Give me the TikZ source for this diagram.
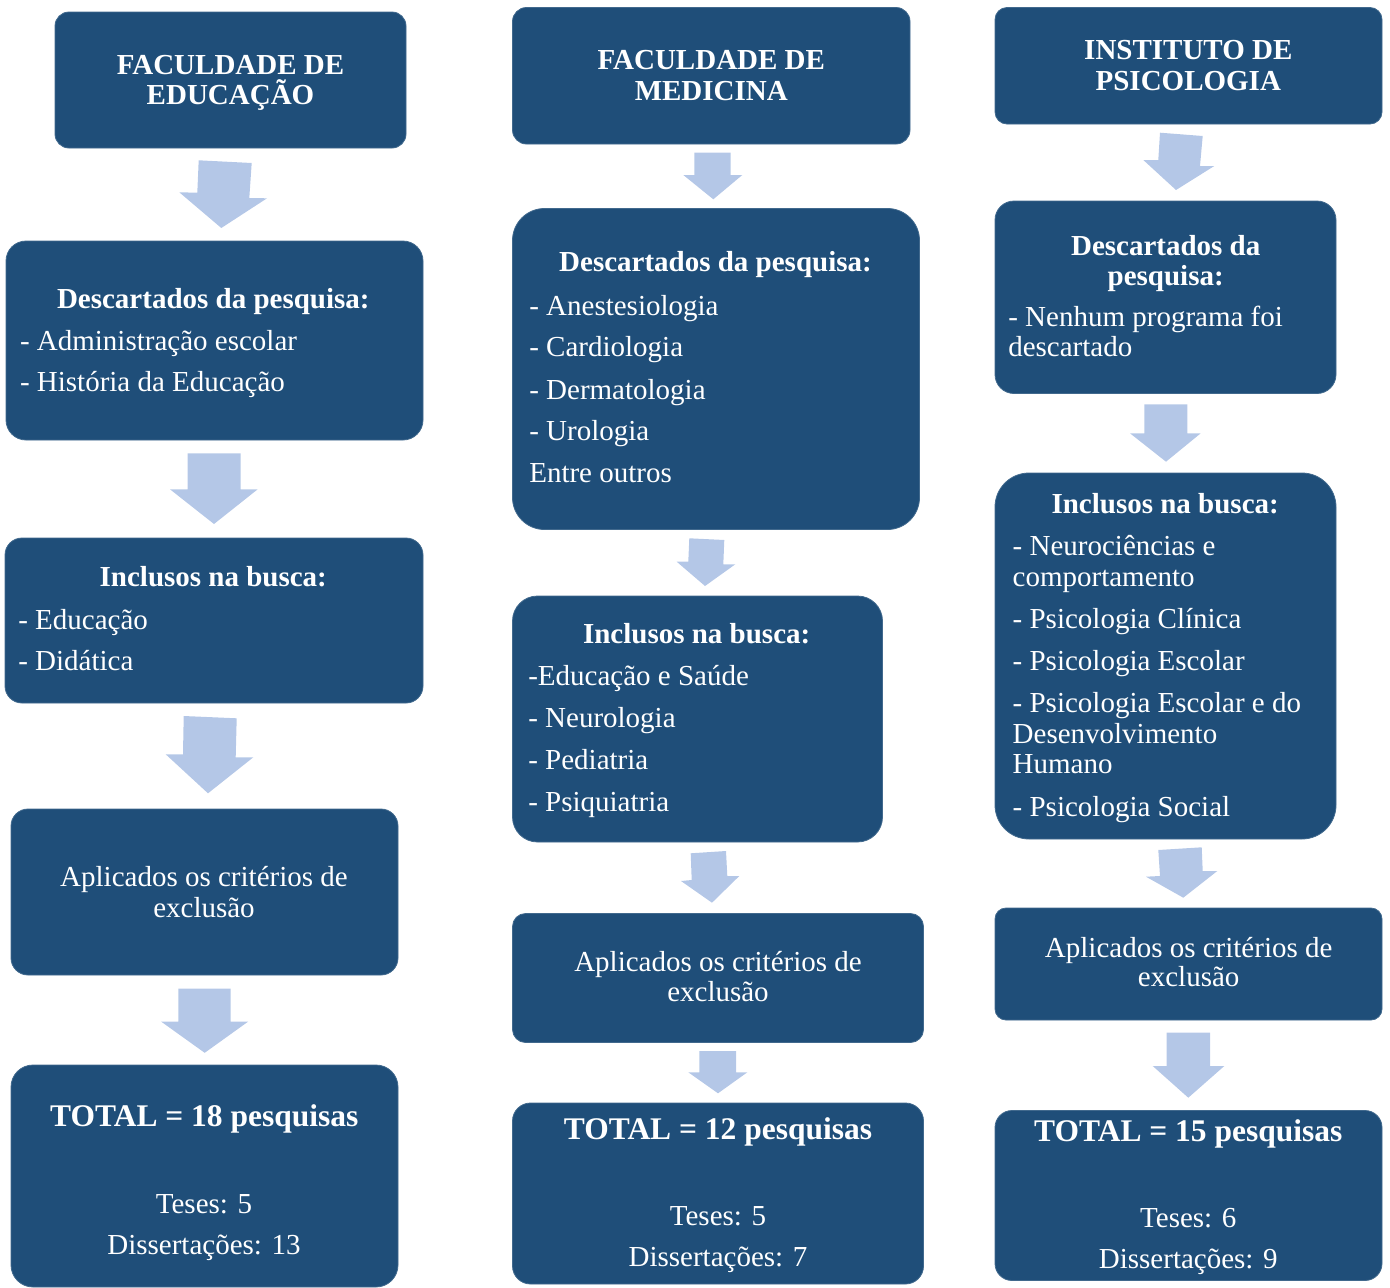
\documentclass[tikz,border=0pt]{standalone}
\usepackage{fontspec}
\setmainfont{Liberation Serif}
\definecolor{boxblue}{HTML}{1F4E79}
\definecolor{arrowblue}{HTML}{B4C7E7}
\tikzset{
  boxst/.style={fill=boxblue, draw=boxblue!85!white, line width=0.8pt, inner sep=0pt, outer sep=0pt, anchor=north west},
  txt/.style={text=white, inner sep=0pt, outer sep=0pt, font=\fontsize{29}{31}\selectfont},
  hd/.style={txt, font=\fontsize{29}{31}\selectfont\bfseries},
  tot/.style={txt, font=\fontsize{31.5}{33}\selectfont\bfseries},
  arrowst/.style={fill=arrowblue}
}
\newcommand\bx[5]{\node[boxst, minimum width=#3pt, minimum height=#4pt, rounded corners=#5pt] (#1) at (#2) {};}
\newcommand\tl[4]{\node[txt, anchor=base west] (#1) at (#2,#3) {#4};}
\newcommand\tc[4]{\node[txt, anchor=base] (#1) at (#2,#3) {#4};}
\newcommand\hc[4]{\node[hd, anchor=base] (#1) at (#2,#3) {#4};}
\newcommand\totc[4]{\node[tot, anchor=base] (#1) at (#2,#3) {#4};}
\newcommand\barrow[7]{\fill[arrowst] #1 -- #2 -- #3 -- #4 -- #5 -- #6 -- #7 -- cycle;}
\begin{document}
\begin{tikzpicture}[x=1pt,y=-1pt]
\useasboundingbox (0,0) rectangle (1390,1288);
% ---------- column 1 ----------
\bx{b1}{55,12}{351}{136}{14}
\bx{b2}{6,241}{417}{199}{20}
\bx{b3}{5,538}{418}{165}{17}
\bx{b4}{11,809}{387}{166}{17}
\bx{b5}{11,1065}{387}{222}{22}
\barrow{(198.7,160.3)}{(251.7,163)}{(249.3,198)}{(267,198.3)}{(221.3,228)}{(179.3,192.3)}{(197.3,192.7)}
\barrow{(187.7,453.3)}{(240.7,453.3)}{(240.7,489.3)}{(257.7,489.3)}{(214,524)}{(170,489.3)}{(187.7,489.3)}
\barrow{(183.7,716)}{(236.7,718.3)}{(235.7,757.3)}{(253.3,757.3)}{(208,793.3)}{(165.7,754.3)}{(183,754.3)}
\barrow{(178.3,988.7)}{(230.7,988.7)}{(230.7,1021.5)}{(248.3,1021.5)}{(204.7,1052.8)}{(161,1021.5)}{(178.3,1021.5)}
\hc{t1}{230.5}{74}{FACULDADE DE}
\hc{t2}{230.5}{104}{EDUCAÇÃO}
\hc{t3}{213.3}{308.3}{Descartados da pesquisa:}
\tl{t4}{20}{350}{- Administração escolar}
\tl{t5}{20}{391.7}{- História da Educação}
\hc{t6}{213.3}{586.7}{Inclusos na busca:}
\tl{t7}{18.3}{629}{- Educação}
\tl{t8}{18.3}{670.7}{- Didática}
\tc{t9}{204}{886}{Aplicados os critérios de}
\tc{t10}{204}{917}{exclusão}
\totc{t11}{204.3}{1126.4}{TOTAL = 18 pesquisas}
\tc{t12}{204}{1213}{Teses: 5}
\tc{t13}{204}{1254.7}{Dissertações: 13}
% ---------- column 2 ----------
\bx{c1}{512.5,7.5}{397.5}{136.5}{14}
\bx{c2}{512.5,208.5}{407}{321}{32}
\bx{c3}{512.5,596}{370}{246}{25}
\bx{c4}{512.5,913.5}{411}{129}{13}
\bx{c5}{512.5,1103}{411}{181}{18}
\barrow{(694.3,152.7)}{(730.7,152.7)}{(730.7,175)}{(742.3,175)}{(713.3,199.3)}{(683.3,175)}{(694.3,175)}
\barrow{(689.3,538.3)}{(724.3,540)}{(723.3,564.3)}{(735.3,564.3)}{(705,586)}{(676.7,561.7)}{(688.3,561.7)}
\barrow{(690.7,853.3)}{(726,851)}{(727.3,876)}{(739.3,876)}{(712,902.7)}{(681,881)}{(691.7,880)}
\barrow{(699.3,1051)}{(736,1051)}{(736,1072.3)}{(747.3,1072.3)}{(718,1093.3)}{(688.3,1072.3)}{(699.3,1072.3)}
\hc{u1}{711.3}{69}{FACULDADE DE}
\hc{u2}{711.3}{100}{MEDICINA}
\hc{u3}{715.5}{271.7}{Descartados da pesquisa:}
\tl{u4}{529.3}{315}{- Anestesiologia}
\tl{u5}{529.3}{356.7}{- Cardiologia}
\tl{u6}{529.3}{399}{- Dermatologia}
\tl{u7}{529.3}{440.7}{- Urologia}
\tl{u8}{529.3}{482.7}{Entre outros}
\hc{u9}{696.7}{643.3}{Inclusos na busca:}
\tl{u10}{528.3}{685.7}{-Educação e Saúde}
\tl{u11}{528.3}{727.3}{- Neurologia}
\tl{u12}{528.3}{769.3}{- Pediatria}
\tl{u13}{528.3}{811.7}{- Psiquiatria}
\tc{u14}{718}{971.7}{Aplicados os critérios de}
\tc{u15}{718}{1001.7}{exclusão}
\totc{u16}{718}{1139.3}{TOTAL = 12 pesquisas}
\tc{u17}{718}{1225}{Teses: 5}
\tc{u18}{718}{1266.7}{Dissertações: 7}
% ---------- column 3 ----------
\bx{d1}{995,7.5}{387}{116.5}{12}
\bx{d2}{995,201}{341}{192.5}{19}
\bx{d3}{995,473}{341}{366}{34}
\bx{d4}{995,908}{387}{112}{11}
\bx{d5}{995,1110.5}{387}{170}{17}
\barrow{(1160,132.7)}{(1202.7,136)}{(1200,166)}{(1214.3,166)}{(1176,190)}{(1143.3,160)}{(1158.3,160)}
\barrow{(1144.3,404.3)}{(1187.3,404.3)}{(1187.3,433.3)}{(1200.7,433.3)}{(1166,461.7)}{(1130,433.3)}{(1144.3,433.3)}
\barrow{(1158.3,850)}{(1201.7,847.3)}{(1202.7,871)}{(1217.3,871)}{(1183.3,897.7)}{(1146,876.7)}{(1160,876)}
\barrow{(1166.7,1032.7)}{(1210,1032.7)}{(1210,1066)}{(1224.3,1066)}{(1188.3,1097.7)}{(1152.7,1066)}{(1166.7,1066)}
\hc{v1}{1188.3}{59.3}{INSTITUTO DE}
\hc{v2}{1188.3}{90}{PSICOLOGIA}
\hc{v3}{1165.7}{255}{Descartados da}
\hc{v4}{1165.7}{285}{pesquisa:}
\tl{v5}{1008.3}{326.7}{- Nenhum programa foi}
\tl{v6}{1008.3}{356.7}{descartado}
\hc{v7}{1165.2}{513.3}{Inclusos na busca:}
\tl{v8}{1012.7}{555.7}{- Neurociências e}
\tl{v9}{1012.7}{586.7}{comportamento}
\tl{v10}{1012.7}{628.3}{- Psicologia Clínica}
\tl{v11}{1012.7}{670.7}{- Psicologia Escolar}
\tl{v12}{1012.7}{712.3}{- Psicologia Escolar e do}
\tl{v13}{1012.7}{743.3}{Desenvolvimento}
\tl{v14}{1012.7}{773.3}{Humano}
\tl{v15}{1012.7}{816}{- Psicologia Social}
\tc{v16}{1188.7}{957.3}{Aplicados os critérios de}
\tc{v17}{1188.7}{986.7}{exclusão}
\totc{v18}{1188.3}{1141.7}{TOTAL = 15 pesquisas}
\tc{v19}{1188.3}{1227.3}{Teses: 6}
\tc{v20}{1188.3}{1268.3}{Dissertações: 9}
\end{tikzpicture}
\end{document}
